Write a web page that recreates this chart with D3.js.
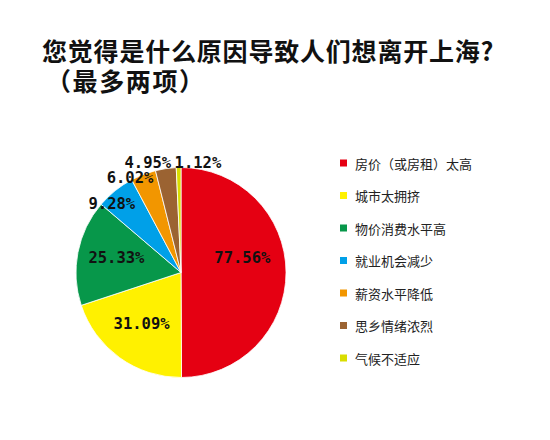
<!DOCTYPE html>
<meta charset="utf-8">
<script src="https://d3js.org/d3.v7.min.js"></script>
<style>
  body { margin: 0; background: #fff; }
</style>
<div id="chart"></div>
<script>
// chart data
const titleLines = ["您觉得是什么原因导致人们想离开上海?", "（最多两项）"];
const categories = ["房价（或房租）太高", "城市太拥挤", "物价消费水平高", "就业机会减少", "薪资水平降低", "思乡情绪浓烈", "气候不适应"];
const values = [77.56, 31.09, 25.33, 9.28, 6.02, 4.95, 1.12];
const colors = ["#e50012", "#fff100", "#07974a", "#00a0e8", "#f29600", "#9b6332", "#d9dd00"];

// label placement: radius factor + angle nudge (degrees) per slice
const labelLayout = [
  {r: 0.60, da: -13}, {r: 0.62, da: 1.5}, {r: 0.63, da: 1.5},
  {r: 0.93, da: -6.3}, {r: 1.02, da: -7.4}, {r: 1.09, da: -8.5}, {r: 1.055, da: 10.1}
];

const width = 550, height = 440;
const cx = 181, cy = 272.5, radius = 105;

const svg = d3.select("#chart").append("svg")
  .attr("width", width)
  .attr("height", height);

// title
svg.append("g").selectAll("text")
  .data(titleLines)
  .join("text")
    .attr("x", (d, i) => i ? 46 : 42)
    .attr("y", (d, i) => 61 + i * 30)
    .attr("font-family", "'Noto Sans CJK SC', sans-serif")
    .attr("font-weight", "bold")
    .attr("font-size", 25)
    .attr("letter-spacing", (d, i) => i ? 1.6 : 0.8)
    .attr("fill", "#111")
    .text(d => d);

const pie = d3.pie().sort(null).value(d => d);
const arcs = pie(values);
const arc = d3.arc().innerRadius(0).outerRadius(radius);

const g = svg.append("g").attr("transform", `translate(${cx},${cy})`);

g.selectAll("path")
  .data(arcs)
  .join("path")
    .attr("d", arc)
    .attr("fill", (d, i) => colors[i])
    .attr("stroke", "#fff")
    .attr("stroke-width", 0.8);

const fmt = d3.format(".2f");
g.selectAll("text.lbl")
  .data(arcs)
  .join("text")
    .attr("class", "lbl")
    .attr("transform", (d, i) => {
      const a = (d.startAngle + d.endAngle) / 2 + labelLayout[i].da * Math.PI / 180;
      const r = radius * labelLayout[i].r;
      return `translate(${r * Math.sin(a)},${-r * Math.cos(a)})`;
    })
    .attr("text-anchor", "middle")
    .attr("dominant-baseline", "central")
    .attr("font-family", "'DejaVu Sans Mono', monospace")
    .attr("font-weight", "bold")
    .attr("font-size", 15.5)
    .attr("fill", "#111")
    .text(d => fmt(d.data) + "%");

// legend
const legendY = d3.scalePoint().domain(categories).range([163, 358]);
const legend = svg.append("g").selectAll("g")
  .data(categories)
  .join("g")
    .attr("transform", d => `translate(340,${legendY(d)})`);

legend.append("rect")
  .attr("x", 0)
  .attr("y", -3.5)
  .attr("width", 7)
  .attr("height", 7)
  .attr("fill", (d, i) => colors[i]);

legend.append("text")
  .attr("x", 15)
  .attr("y", 0)
  .attr("dominant-baseline", "central")
  .attr("font-family", "'Noto Sans CJK SC', sans-serif")
  .attr("font-size", 13)
  .attr("fill", "#222")
  .text(d => d);
</script>
